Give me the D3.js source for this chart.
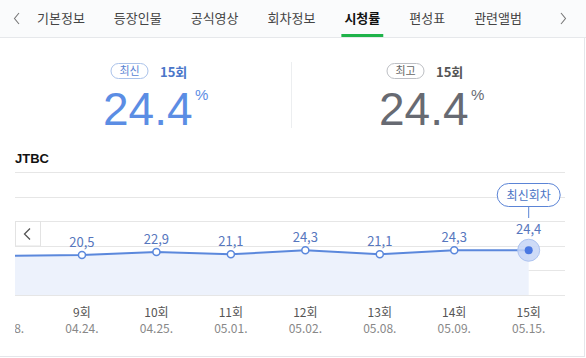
<!DOCTYPE html>
<html><head><meta charset="utf-8">
<script src="https://cdn.jsdelivr.net/npm/d3@7"></script>
<style>
html,body{margin:0;padding:0;background:#fff;}
svg{display:block;font-family:"Noto Sans CJK KR","Noto Sans",sans-serif;}
</style></head>
<body>
<script>
// ---- data ----
const tabs = ["기본정보","등장인물","공식영상","회차정보","시청률","편성표","관련앨범"];
const activeTab = "시청률";
const episodes = ["8회","9회","10회","11회","12회","13회","14회","15회"];
const dates = ["04.18.","04.24.","04.25.","05.01.","05.02.","05.08.","05.09.","05.15."];
const ratings = [19.9, 20.5, 22.9, 21.1, 24.3, 21.1, 24.3, 24.4];
const latest = {label:"최신", ep:"15회", value:24.4};
const best = {label:"최고", ep:"15회", value:24.4};
const channel = "JTBC";
const latestTag = "최신회차";
const gridValues = [-12, 8, 28, 48, 68, 88];

const W = 586, H = 358;
const svg = d3.select("body").append("svg").attr("width", W).attr("height", H);

// ---- tab bar ----
svg.append("rect").attr("x",0).attr("y",0).attr("width",W).attr("height",37).attr("fill","#fafbfc");
svg.append("line").attr("x1",0).attr("x2",W).attr("y1",37.5).attr("y2",37.5).attr("stroke","#e6e8eb");
svg.append("path").attr("d","M19,13 L14.5,18.5 L19,24").attr("fill","none").attr("stroke","#777").attr("stroke-width",1.1);
svg.append("path").attr("d","M561,13 L565.5,18.5 L561,24").attr("fill","none").attr("stroke","#777").attr("stroke-width",1.1);
let tx = 37;
tabs.forEach(t => {
  const isA = t === activeTab;
  const el = svg.append("text").attr("x", tx).attr("y", 23).attr("font-size", 13)
    .attr("font-weight", isA ? 700 : 400).attr("fill", isA ? "#111" : "#444").text(t);
  const w = el.node().getComputedTextLength();
  if (isA) {
    svg.append("rect").attr("x", tx - 3).attr("y", 34).attr("width", w + 6).attr("height", 3).attr("fill", "#1fb34a");
  }
  tx += w + 29;
});

// card borders
svg.append("line").attr("x1",584.5).attr("x2",584.5).attr("y1",38).attr("y2",357).attr("stroke","#e4e6ea");
svg.append("line").attr("x1",0).attr("x2",585).attr("y1",356.5).attr("y2",356.5).attr("stroke","#e4e6ea");

// ---- summary ----
function summary(cx, d, pillStroke, pillText, epColor, numColor) {
  const g = svg.append("g");
  g.append("rect").attr("x", cx - 34).attr("y", 63.5).attr("width", 37).attr("height", 15).attr("rx", 7.5)
    .attr("fill","#fff").attr("stroke", pillStroke);
  g.append("text").attr("x", cx - 15.5).attr("y", 75).attr("text-anchor","middle").attr("font-size", 11)
    .attr("fill", pillText).text(d.label);
  g.append("text").attr("x", cx + 15).attr("y", 77).attr("font-size", 13).attr("font-weight", 700)
    .attr("fill", epColor).text(d.ep);
  g.append("text").attr("x", cx - 42).attr("y", 125).attr("font-size", 46)
    .attr("font-family","'Liberation Sans',Arial,sans-serif").attr("fill", numColor).text(d3.format(".1f")(d.value));
  g.append("text").attr("x", cx + 50).attr("y", 100).attr("font-size", 15)
    .attr("font-family","'Liberation Sans',Arial,sans-serif").attr("fill", numColor).text("%");
}
summary(145, latest, "#aac2ea", "#5a84d4", "#4a76c9", "#5b8de4");
summary(421, best, "#bdbfc4", "#666", "#555", "#676a72");
svg.append("line").attr("x1",291.5).attr("x2",291.5).attr("y1",62).attr("y2",128).attr("stroke","#eceef0");

// ---- chart ----
svg.append("text").attr("x",15).attr("y",163).attr("font-size",13).attr("font-weight",700)
  .attr("font-family","'Liberation Sans',Arial,sans-serif").attr("fill","#111").text(channel);

const x = d3.scalePoint().domain(episodes).range([7.5, 528.7]);
const y = d3.scaleLinear().domain([-12, 88]).range([295, 172]);

const defs = svg.append("defs");
defs.append("clipPath").attr("id","clip")
  .append("rect").attr("x",15).attr("y",140).attr("width",560).attr("height",210);
defs.append("clipPath").attr("id","clipEp")
  .append("rect").attr("x",18).attr("y",140).attr("width",560).attr("height",210);
const plot = svg.append("g").attr("clip-path","url(#clip)");

plot.selectAll("line.grid").data(gridValues).join("line").attr("class","grid")
  .attr("x1",15).attr("x2",565).attr("y1",d=>Math.round(y(d))+0.5).attr("y2",d=>Math.round(y(d))+0.5)
  .attr("stroke","#e6e6e6");

const pts = ratings.map((v,i)=>({ep:episodes[i], date:dates[i], v}));
plot.append("path").datum(pts)
  .attr("d", d3.area().x(d=>x(d.ep)).y0(y(-12)).y1(d=>y(d.v)))
  .attr("fill","#edf2fc");
plot.append("path").datum(pts)
  .attr("d", d3.line().x(d=>x(d.ep)).y(d=>y(d.v)))
  .attr("fill","none").attr("stroke","#5b88dc").attr("stroke-width",2);

const last = pts[pts.length-1];
const normal = pts.slice(0, -1);
plot.selectAll("circle.pt").data(normal).join("circle").attr("class","pt")
  .attr("cx",d=>x(d.ep)).attr("cy",d=>y(d.v)).attr("r",3.5)
  .attr("fill","#fff").attr("stroke","#5b88dc").attr("stroke-width",1.5);
plot.append("circle").attr("cx",x(last.ep)).attr("cy",y(last.v)).attr("r",11)
  .attr("fill","#c5d5f6").attr("fill-opacity",0.85).attr("stroke","#adc3f0");
plot.append("circle").attr("cx",x(last.ep)).attr("cy",y(last.v)).attr("r",4).attr("fill","#4a78e2");

const fmt = v => d3.format(".1f")(v).replace(".", ",");
plot.selectAll("text.val").data(pts.slice(1)).join("text").attr("class","val")
  .attr("x",d=>x(d.ep)).attr("y",d=> d === last ? y(d.v)-16.5 : y(d.v)-8)
  .attr("text-anchor","middle").attr("font-size",13).attr("fill","#5676bd").text(d=>fmt(d.v));

// latest tag bubble
const lx = x(last.ep);
svg.append("line").attr("x1",lx).attr("x2",lx).attr("y1",207).attr("y2",218).attr("stroke","#5b84d6");
svg.append("rect").attr("x",lx-31.5).attr("y",183.5).attr("width",63).attr("height",23).attr("rx",11.5)
  .attr("fill","#fff").attr("stroke","#5b84d6");
svg.append("text").attr("x",lx).attr("y",199.5).attr("text-anchor","middle").attr("font-size",12)
  .attr("fill","#4a72c4").text(latestTag);

// x labels
svg.append("g").attr("clip-path","url(#clipEp)")
  .selectAll("text.ep").data(pts.slice(1)).join("text").attr("class","ep")
  .attr("x",d=>x(d.ep)).attr("y",317).attr("text-anchor","middle").attr("font-size",12)
  .attr("fill","#555").text(d=>d.ep);
plot.selectAll("text.dt").data(pts).join("text").attr("class","dt")
  .attr("x",d=>x(d.ep)).attr("y",333).attr("text-anchor","middle").attr("font-size",12)
  .attr("fill","#888").text(d=>d.date);

// left nav button
svg.append("rect").attr("x",15.5).attr("y",221.5).attr("width",25).attr("height",24.5)
  .attr("fill","#fff").attr("stroke","#e3e3e3");
svg.append("path").attr("d","M30,228.5 L24.5,234 L30,239.5").attr("fill","none").attr("stroke","#555").attr("stroke-width",1.3);
</script>
</body></html>
